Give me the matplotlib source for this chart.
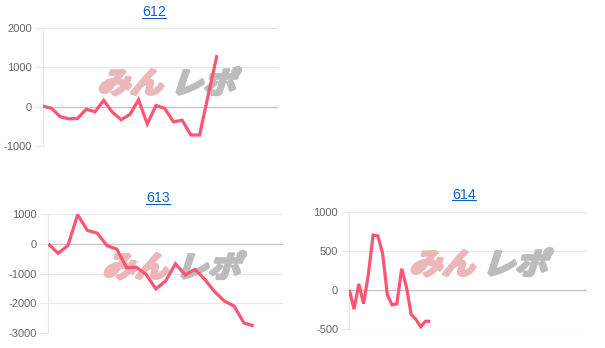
import matplotlib
matplotlib.use('Agg')
import matplotlib.pyplot as plt
import matplotlib.transforms as mtransforms
from matplotlib.textpath import TextPath
from matplotlib.patches import PathPatch
from matplotlib.font_manager import FontProperties
from matplotlib.lines import Line2D

# data
titles = ['612', '613', '614']
vals_612 = [15, -40, -255, -310, -300, -65, -130, 160, -140, -330, -200, 175,
            -440, 30, -45, -385, -345, -720, -720, 300, 1310]
vals_613 = [0, -315, -60, 985, 455, 365, -60, -175, -800, -790, -1030, -1520,
            -1250, -670, -1050, -860, -1200, -1610, -1930, -2100, -2670, -2770]
vals_614 = [0, -250, 75, -180, 195, 700, 690, 465, -70, -195, -180, 270,
            35, -315, -380, -475, -405, -405]
yticks_612 = [-1000, 0, 1000, 2000]
yticks_613 = [-3000, -2000, -1000, 0, 1000]
yticks_614 = [-500, 0, 500, 1000]
xmax_612 = 27
xmax_613 = 24
xmax_614 = 50

W, H = 605, 348
fig = plt.figure(figsize=(W / 100, H / 100), dpi=100)
fig.patch.set_facecolor('white')

LINE = '#ff5573'
GRID = '#e8e8e8'
ZERO = '#c4c4c4'
TICK = '#666666'
TITLE = '#0b63c9'
tick_font = 'Liberation Sans'
wm_font = FontProperties(family='Noto Sans CJK JP', weight='bold')


def px_axes(left, right, top, bottom):
    return fig.add_axes([left / W, 1 - bottom / H, (right - left) / W, (bottom - top) / H])


def watermark(ax, x0, base):
    # faint site logo behind the line
    for txt, col, dx in [('みん', '#ecb6ba', 0), ('レポ', '#bcbcbc', 73)]:
        tp = TextPath((0, 0), txt, size=31, prop=wm_font)
        tr = mtransforms.Affine2D().scale(1.05, 0.95).skew_deg(18, 0).translate(x0 + dx, H - base)
        ax.add_patch(PathPatch(tp, transform=tr, fc=col, ec=col, lw=2.2,
                               joinstyle='round', zorder=1))


def small_chart(box, vals, yticks, xmax, wm):
    ax = px_axes(*box)
    ax.set_facecolor('none')
    ax.plot(range(len(vals)), vals, color=LINE, lw=2.3, zorder=3,
            solid_joinstyle='miter', solid_capstyle='butt')
    ax.set_xlim(0, xmax)
    ax.set_ylim(yticks[0], yticks[-1])
    ax.set_yticks(yticks)
    ax.set_yticklabels([str(t) for t in yticks], fontfamily=tick_font, fontsize=8, color=TICK)
    ax.set_xticks([])
    ax.tick_params(axis='y', length=6, width=0.8, color=GRID, pad=2)
    ax.grid(axis='y', color=GRID, lw=0.8, zorder=0.5)
    ax.axhline(0, color=ZERO, lw=0.9, zorder=0.8)
    for s in ['top', 'right', 'bottom']:
        ax.spines[s].set_visible(False)
    ax.spines['left'].set_color(GRID)
    ax.spines['left'].set_linewidth(0.8)
    watermark(ax, *wm)
    ax.set_axisbelow(True)
    return ax


small_chart((42.7, 278, 28, 146), vals_612, yticks_612, xmax_612, (97, 93))
small_chart((48.3, 283, 214.3, 332.7), vals_613, yticks_613, xmax_613, (102, 277))
small_chart((349.3, 587.3, 211.7, 328.7), vals_614, yticks_614, xmax_614, (409, 274))

# underlined blue titles
title_pos = [(154, 12), (158, 198), (464, 195)]
title_objs = []
for t, (x, y) in zip(titles, title_pos):
    title_objs.append(fig.text(x / W, 1 - y / H, t, ha='center', va='center',
                               fontfamily=tick_font, fontsize=10.2, color=TITLE))
fig.canvas.draw()
r = fig.canvas.get_renderer()
for tobj in title_objs:
    bb = tobj.get_window_extent(r)
    yl = bb.y0 + 1.5
    fig.add_artist(Line2D([bb.x0 / W, bb.x1 / W], [yl / H, yl / H], color=TITLE, lw=0.8,
                          transform=fig.transFigure))

fig.savefig('out.png', dpi=100)
